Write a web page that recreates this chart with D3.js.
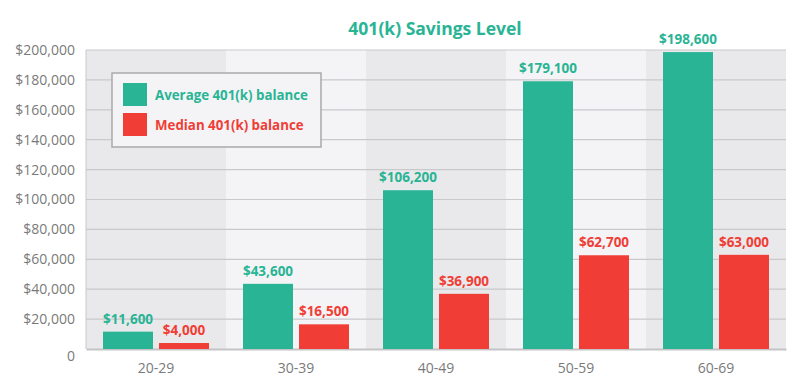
<!DOCTYPE html>
<html>
<head>
<meta charset="utf-8">
<script src="https://cdn.jsdelivr.net/npm/d3@7"></script>
<style>
  body { margin: 0; background: #fff; }
  text { font-family: "Open Sans", sans-serif; }
</style>
</head>
<body>
<div id="chart"></div>
<script>
// categories and values
const ageGroups = ["20-29", "30-39", "40-49", "50-59", "60-69"];
const averageBalance = [11600, 43600, 106200, 179100, 198600];
const medianBalance = [4000, 16500, 36900, 62700, 63000];
const seriesNames = ["Average 401(k) balance", "Median 401(k) balance"];
const yTicks = [0, 20000, 40000, 60000, 80000, 100000, 120000, 140000, 160000, 180000, 200000];

const teal = "#29b495", red = "#f03e36";

var margin = {top: 50, right: 14, bottom: 40, left: 86},
  width = 800 - margin.left - margin.right,
  height = 389 - margin.top - margin.bottom;

var svg = d3.select("#chart").append("svg")
  .attr("width", 800).attr("height", 389)
  .append("g")
  .attr("transform", "translate(" + margin.left + "," + margin.top + ")");

var x = d3.scaleBand().domain(ageGroups).range([0, width]).padding(0);
var y = d3.scaleLinear().domain([0, 200000]).range([height, 0]);

// alternating column bands
svg.selectAll(".band").data(ageGroups).enter().append("rect")
  .attr("x", d => x(d)).attr("y", 0)
  .attr("width", x.bandwidth()).attr("height", height)
  .attr("fill", (d, i) => i % 2 ? "#f4f4f6" : "#e9e9eb");

// grid lines
svg.selectAll(".grid").data(yTicks.slice(1)).enter().append("line")
  .attr("x1", 0).attr("x2", width)
  .attr("y1", d => y(d)).attr("y2", d => y(d))
  .attr("stroke", "#c9c9cc").attr("stroke-width", 1.2);

svg.append("line").attr("x1", 0).attr("x2", 0).attr("y1", 0).attr("y2", height)
  .attr("stroke", "#c9c9cc").attr("stroke-width", 1);

// y axis
var yAxis = svg.append("g")
  .call(d3.axisLeft(y).tickValues(yTicks).tickSize(0).tickPadding(11)
    .tickFormat(d => d === 0 ? "0" : "$" + d3.format(",")(d)));
yAxis.select(".domain").remove();
yAxis.selectAll("text").attr("fill", "#7a7a7a").style("font-size", "14px")
  .attr("dy", d => d === 0 ? "0.85em" : "0.32em");

// x axis
var xAxis = svg.append("g").attr("transform", "translate(0," + height + ")")
  .call(d3.axisBottom(x).tickSize(0).tickPadding(14));
xAxis.select(".domain").attr("stroke", "#c4c4c6").attr("stroke-width", 2);
xAxis.selectAll("text").attr("fill", "#7a7a7a").style("font-size", "14px");

// bars
var barW = 50, gap = 6;
var series = [averageBalance, medianBalance];
var colors = [teal, red];
series.forEach(function(vals, s) {
  var off = s === 0 ? -gap / 2 - barW : gap / 2;
  svg.selectAll(".bar" + s).data(vals).enter().append("rect")
    .attr("x", (d, i) => x(ageGroups[i]) + x.bandwidth() / 2 + off)
    .attr("y", d => y(d))
    .attr("width", barW)
    .attr("height", d => height - y(d))
    .attr("fill", colors[s]);
  svg.selectAll(".lab" + s).data(vals).enter().append("text")
    .attr("x", (d, i) => x(ageGroups[i]) + x.bandwidth() / 2 + off + barW / 2)
    .attr("y", d => y(d) - 8)
    .attr("text-anchor", "middle")
    .attr("fill", colors[s])
    .style("font-size", "13.5px").style("font-weight", "bold")
    .text(d => "$" + d3.format(",")(d));
});

// title
svg.append("text")
  .attr("x", width / 2 - 1).attr("y", -15)
  .attr("text-anchor", "middle")
  .attr("fill", teal)
  .style("font-size", "17.5px").style("font-weight", "bold")
  .text("401(k) Savings Level");

// legend
var legend = svg.append("g").attr("transform", "translate(26,23)");
legend.append("rect").attr("width", 209).attr("height", 74)
  .attr("fill", "#f4f4f6").attr("stroke", "#a9a9ab").attr("stroke-width", 1.5);
seriesNames.forEach(function(name, i) {
  legend.append("rect").attr("x", 11).attr("y", 10 + i * 30)
    .attr("width", 24).attr("height", 23).attr("fill", colors[i]);
  legend.append("text").attr("x", 43).attr("y", 22 + i * 30)
    .attr("dy", "0.35em").attr("fill", colors[i])
    .style("font-size", "13.3px").style("font-weight", "bold")
    .text(name);
});
</script>
</body>
</html>
